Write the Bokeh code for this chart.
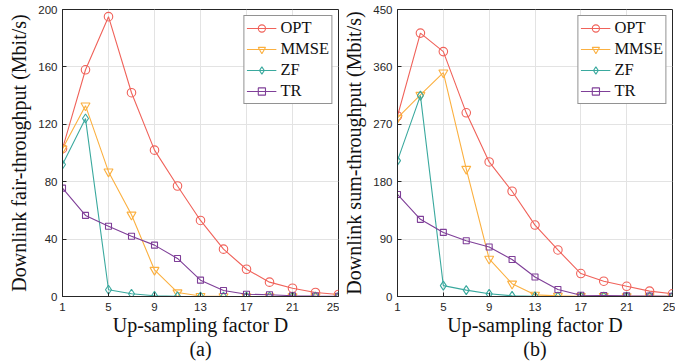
from bokeh.plotting import figure
from bokeh.layouts import row
from bokeh.models import Range1d, FixedTicker, Legend, LegendItem
from bokeh.embed import file_html
from bokeh.resources import INLINE

D = [1, 3, 5, 7, 9, 11, 13, 15, 17, 19, 21, 23, 25]

fair_opt = [103, 158, 195, 142, 102, 77, 53, 33, 19, 10, 5.8, 2.8, 1.4]
fair_mmse = [103, 133, 87, 57, 18.5, 2.8, 0.3, 0.1, 0, 0, 0, 0, 0]
fair_zf = [92, 124, 4.7, 1.9, 0.5, 0.1, 0, 0, 0, 0, 0, 0, 0]
fair_tr = [75.5, 56.5, 49, 42, 35.8, 26.5, 11.4, 4.2, 1.6, 1.2, 0.5, 0.3, 0.2]

sum_opt = [283, 413, 384, 288, 211, 165, 112, 73, 36, 24, 16, 8.4, 4.2]
sum_mmse = [280, 316, 351, 200, 59, 20, 2.6, 1, 0.5, 0.5, 0.3, 0.2, 0.2]
sum_zf = [213, 315, 17, 10, 4.2, 1, 0.3, 0.1, 0, 0, 0, 0, 0]
sum_tr = [160, 121, 100.5, 87.5, 77.5, 58, 30.5, 11, 2, 1.5, 1, 0.8, 0.5]

x_ticks = [1, 5, 9, 13, 17, 21, 25]
fair_ticks = [0, 40, 80, 120, 160, 200]
sum_ticks = [0, 90, 180, 270, 360, 450]

names = ["OPT", "MMSE", "ZF", "TR"]
colors = ["#f0625a", "#fbb040", "#3aa99e", "#7f3f98"]
markers = ["circle", "inverted_triangle", "diamond", "square"]
msizes = [8.5, 9, 9, 6]

AX = "#262626"


def make_panel(series, yticks, ymax, ylabel, sub, width, bl, br):
    p = figure(width=width, height=362, output_backend="svg", toolbar_location=None,
               x_range=Range1d(1, 25), y_range=Range1d(0, ymax),
               min_border_left=bl, min_border_right=br, min_border_top=9,
               min_border_bottom=0)
    p.outline_line_color = AX
    p.outline_line_width = 1
    p.background_fill_color = "white"
    p.border_fill_color = "white"
    for ax in (p.xaxis[0], p.yaxis[0]):
        ax.major_tick_in = 4
        ax.major_tick_out = 0
        ax.minor_tick_line_color = None
        ax.axis_line_color = AX
        ax.major_tick_line_color = AX
        ax.major_label_text_font = "Liberation Sans"
        ax.major_label_text_font_size = "11.5px"
        ax.major_label_text_color = AX
        ax.axis_label_text_font = "Liberation Serif"
        ax.axis_label_text_font_size = "20px"
        ax.axis_label_text_font_style = "normal"
        ax.axis_label_text_color = "#111111"
    p.xaxis.axis_label_text_line_height = 1.1
    p.xaxis.ticker = FixedTicker(ticks=x_ticks)
    p.yaxis.ticker = FixedTicker(ticks=yticks)
    p.xaxis.axis_label = "Up-sampling factor D\n" + sub
    p.yaxis.axis_label = ylabel
    p.xaxis.axis_label_standoff = 0
    p.yaxis.axis_label_standoff = 5
    p.xaxis.major_label_standoff = 6
    p.yaxis.major_label_standoff = 5
    p.xgrid.ticker = FixedTicker(ticks=x_ticks)
    p.ygrid.ticker = FixedTicker(ticks=yticks)
    p.grid.grid_line_color = "#e3e3e3"
    p.grid.grid_line_width = 1

    items = []
    for name, ys, c, m, s in zip(names, series, colors, markers, msizes):
        ln = p.line(D, ys, line_color=c, line_width=1.1)
        sc = p.scatter(D, ys, marker=m, size=s, line_color=c, fill_color=None, line_width=1.1)
        items.append(LegendItem(label=name, renderers=[ln, sc]))
    leg = Legend(items=items, location="top_right", border_line_color=AX, border_line_width=1,
                 background_fill_alpha=1, label_text_font="Liberation Serif",
                 label_text_font_size="16.5px", label_text_color="#111111",
                 label_text_line_height=1.0,
                 glyph_width=30, glyph_height=18, label_height=18, spacing=1,
                 padding=2, margin=6, label_standoff=4)
    p.add_layout(leg)
    return p


p1 = make_panel([fair_opt, fair_mmse, fair_zf, fair_tr], fair_ticks, 200,
                "Downlink fair-throughput (Mbit/s)", "(a)", 339, 62, 1)
p2 = make_panel([sum_opt, sum_mmse, sum_zf, sum_tr], sum_ticks, 450,
                "Downlink sum-throughput (Mbit/s)", "(b)", 336, 58, 3)

layout = row(p1, p2)
open("out.html", "w").write(file_html(layout, INLINE))
